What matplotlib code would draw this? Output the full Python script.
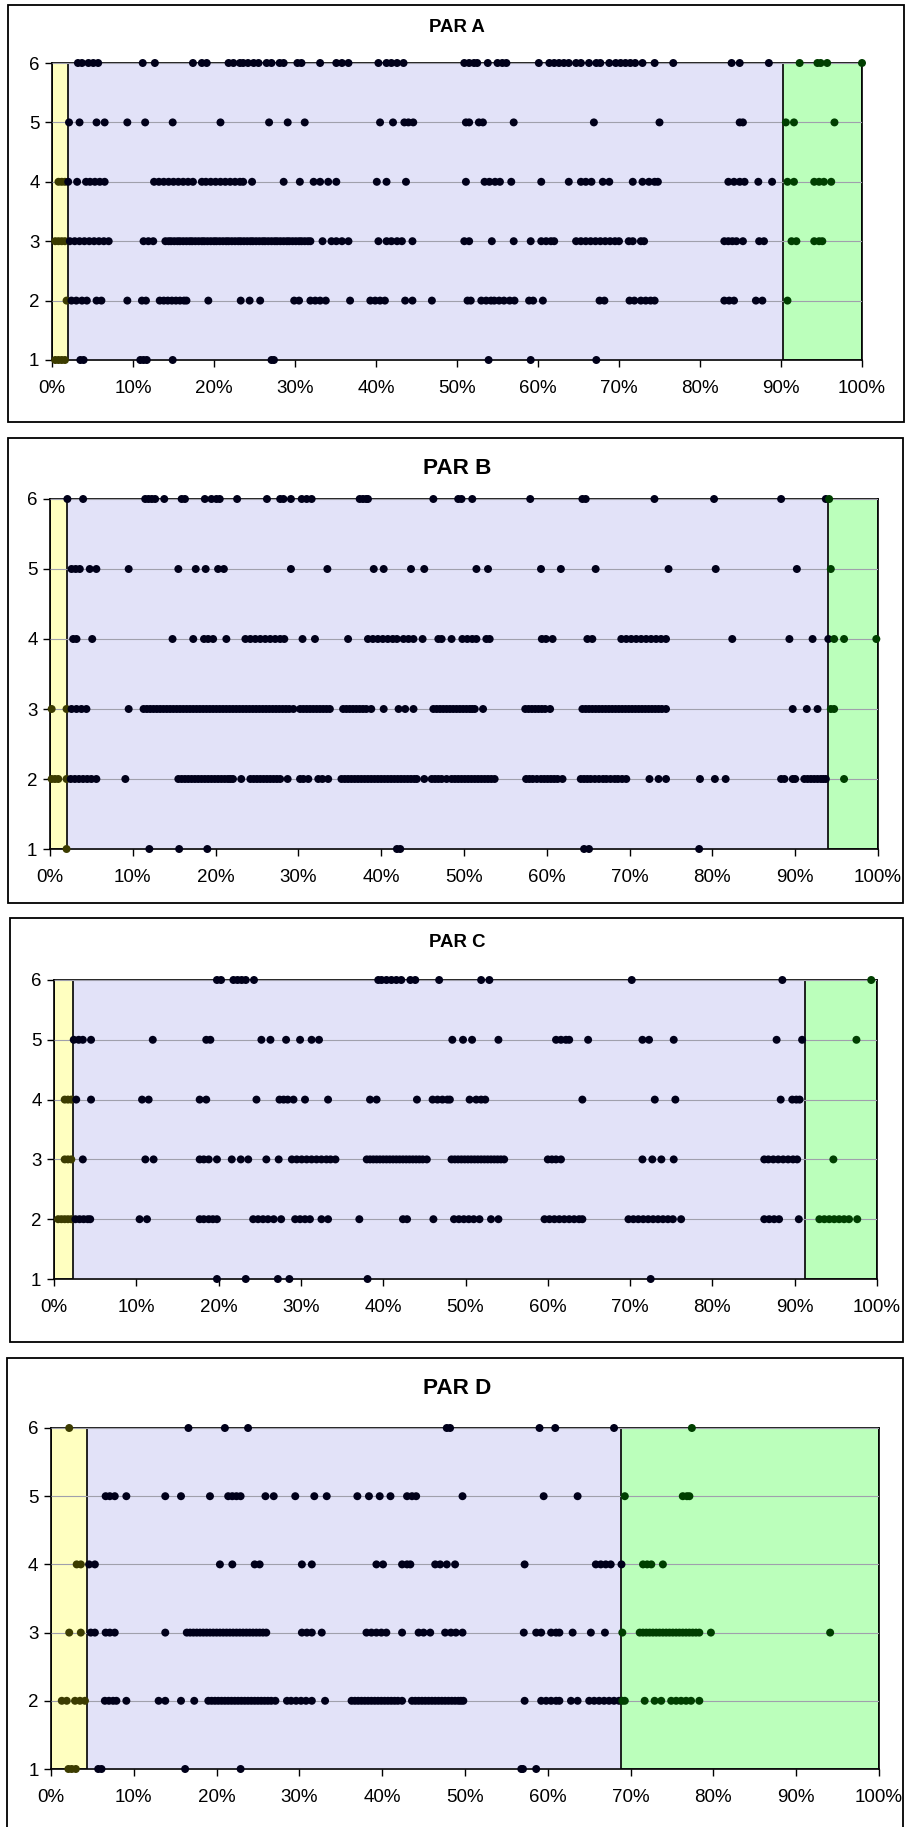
import numpy as np
import matplotlib
matplotlib.use('Agg')
import matplotlib.pyplot as plt
from matplotlib.patches import Rectangle

plt.rcParams['font.family'] = ['Liberation Sans', 'DejaVu Sans']

# ---- data (x in %, one list per level 1..6) ----
titles = ['PAR A', 'PAR B', 'PAR C', 'PAR D']
levels = [1, 2, 3, 4, 5, 6]
x_ticks = [0, 10, 20, 30, 40, 50, 60, 70, 80, 90, 100]
yellow_end = [2.0, 2.1, 2.3, 4.3]
green_start = [90.3, 94.0, 91.2, 68.9]

a1 = [0.4, 0.8, 1.2, 1.6, 3.5, 3.9, 10.9, 11.3, 11.7, 14.9, 27.1, 27.4, 53.9, 59.1, 67.2]
a2 = [1.8, 2.4, 3.0, 3.7, 4.3, 5.5, 6.1, 9.3, 11.1, 11.6, 13.3, 13.8, 14.3, 14.8, 15.3, 15.8,
      16.3, 16.6, 19.3, 23.3, 24.4, 25.7, 29.9, 30.5, 31.9, 32.5, 33.1, 33.8, 36.8, 39.3, 39.9,
      40.5, 41.1, 43.6, 44.5, 46.9, 51.3, 51.7, 53.0, 53.6, 54.2, 54.6, 55.2, 55.8, 56.5, 57.1,
      58.9, 59.4, 60.6, 67.6, 68.2, 71.3, 71.9, 72.7, 73.3, 73.9, 74.4, 83.0, 83.6, 84.2, 86.9,
      87.7, 90.8]
a3 = [0.4, 0.8, 1.2, 1.6, 2.2, 2.8, 3.4, 4.0, 4.6, 5.2, 5.8, 6.4, 7.0, 11.3, 11.9, 12.5,
      14.0, 14.4, 14.7, 15.1, 15.5, 15.8, 16.2, 16.6, 17.0, 17.3, 17.7, 18.1, 18.5, 18.8, 19.2,
      19.6, 20.0, 20.3, 20.7, 21.1, 21.5, 21.8, 22.2, 22.6, 23.0, 23.3, 23.7, 24.1, 24.5, 24.8,
      25.2, 25.6, 26.0, 26.3, 26.7, 27.1, 27.5, 27.8, 28.2, 28.6, 29.0, 29.3, 29.7, 30.1, 30.5,
      30.8, 31.2, 31.6, 31.9, 33.4, 34.5, 35.1, 35.8, 36.6, 40.3, 41.3, 41.9, 42.6, 43.2, 44.5,
      50.9, 51.5, 54.3, 57.0, 59.1, 60.4, 61.0, 61.6, 62.0, 64.7, 65.3, 65.9, 66.5, 67.1, 67.7,
      68.3, 68.9, 69.5, 70.0, 71.2, 71.7, 72.7, 73.1, 83.0, 83.5, 84.0, 84.5, 85.3, 87.3, 87.9,
      91.3, 91.9, 94.1, 94.7, 95.1]
a4 = [0.8, 1.2, 1.6, 2.0, 3.1, 4.2, 4.7, 5.3, 5.9, 6.5, 12.6, 13.2, 13.8, 14.4, 15.0, 15.6,
      16.2, 16.8, 17.4, 18.5, 19.0, 19.6, 20.2, 20.8, 21.4, 22.0, 22.6, 23.2, 23.6, 24.7, 28.6,
      30.6, 32.3, 33.1, 34.1, 35.1, 40.1, 41.3, 43.7, 51.1, 53.4, 54.0, 54.7, 55.3, 56.7, 60.4,
      63.8, 65.3, 65.9, 66.6, 68.0, 68.8, 71.7, 72.9, 73.7, 74.4, 74.8, 83.5, 84.2, 84.9, 85.5,
      87.2, 88.9, 90.8, 91.6, 94.1, 94.7, 95.3, 96.2]
a5 = [2.1, 3.4, 5.5, 6.5, 9.3, 11.5, 14.9, 20.8, 26.8, 29.1, 31.2, 40.5, 42.1, 43.5, 44.0,
      44.6, 51.1, 51.5, 52.7, 53.2, 57.0, 66.9, 75.0, 84.9, 85.3, 90.6, 91.6, 96.6]
a6 = [3.2, 3.7, 4.5, 5.1, 5.7, 11.2, 12.7, 17.4, 18.5, 19.1, 21.8, 22.4, 23.2, 23.6, 24.2,
      24.9, 25.5, 26.5, 27.1, 28.1, 28.6, 30.3, 30.8, 33.1, 35.1, 35.8, 36.6, 40.3, 41.3, 41.9,
      42.6, 43.4, 50.9, 51.5, 52.1, 52.5, 53.8, 55.0, 55.6, 56.1, 60.1, 61.4, 62.0, 62.6, 63.2,
      63.8, 64.7, 65.3, 66.3, 67.2, 67.7, 68.8, 69.6, 70.2, 70.8, 71.4, 72.0, 72.9, 74.4, 76.7,
      83.9, 84.9, 88.5, 92.3, 94.5, 94.9, 95.7, 100.0]

b1 = [2.0, 12.0, 15.6, 19.0, 41.9, 42.3, 64.5, 65.1, 78.4]
b2 = [0.2, 0.6, 1.0, 2.0, 2.5, 3.0, 3.5, 4.0, 4.5, 5.0, 5.6, 9.1, 15.5, 15.9, 16.3, 16.7,
      17.1, 17.5, 17.9, 18.3, 18.7, 19.1, 19.5, 19.9, 20.3, 20.7, 21.1, 21.5, 21.8, 22.1, 23.1,
      24.2, 24.6, 25.0, 25.4, 25.8, 26.2, 26.6, 27.0, 27.4, 27.8, 28.7, 30.2, 30.6, 31.2, 32.4,
      32.9, 33.6, 35.2, 35.6, 36.0, 36.4, 36.8, 37.2, 37.6, 38.0, 38.4, 38.8, 39.2, 39.6, 40.0,
      40.4, 40.8, 41.2, 41.6, 42.0, 42.4, 42.8, 43.2, 43.6, 44.0, 44.3, 45.2, 46.1, 46.5, 46.9,
      47.3, 47.9, 48.5, 48.9, 49.3, 49.7, 50.1, 50.5, 50.9, 51.3, 51.7, 52.1, 52.5, 52.9, 53.3,
      53.7, 57.5, 57.9, 58.3, 58.8, 59.3, 59.7, 60.1, 60.5, 60.9, 61.3, 61.9, 64.1, 64.5, 64.9,
      65.3, 65.8, 66.3, 66.8, 67.2, 67.7, 68.2, 68.6, 69.1, 69.6, 72.4, 73.5, 74.4, 78.5, 80.3,
      81.6, 88.3, 88.7, 89.7, 90.0, 91.1, 91.5, 91.9, 92.3, 92.7, 93.1, 93.4, 93.7, 95.9]
b3 = [0.2, 2.0, 2.6, 3.2, 3.8, 4.4, 9.5, 11.3, 11.7, 12.1, 12.5, 12.9, 13.3, 13.7, 14.1, 14.5,
      14.9, 15.3, 15.7, 16.1, 16.5, 16.9, 17.3, 17.7, 18.1, 18.5, 18.9, 19.3, 19.7, 20.1, 20.5,
      20.9, 21.3, 21.7, 22.1, 22.5, 22.9, 23.3, 23.7, 24.1, 24.5, 24.9, 25.3, 25.7, 26.1, 26.5,
      26.9, 27.3, 27.7, 28.1, 28.5, 28.9, 29.4, 30.2, 30.6, 31.0, 31.4, 31.8, 32.2, 32.6, 33.0,
      33.4, 33.8, 35.4, 35.8, 36.2, 36.6, 37.0, 37.4, 37.8, 38.2, 38.8, 40.3, 42.1, 42.9, 43.9,
      46.3, 46.7, 47.1, 47.5, 47.9, 48.3, 48.7, 49.1, 49.5, 49.9, 50.3, 50.7, 51.0, 51.3, 52.3,
      57.4, 57.8, 58.2, 58.6, 59.0, 59.4, 59.8, 60.4, 64.3, 64.7, 65.1, 65.5, 65.9, 66.3, 66.7,
      67.1, 67.5, 67.9, 68.3, 68.7, 69.1, 69.5, 69.9, 70.3, 70.7, 71.1, 71.5, 71.9, 72.3, 72.7,
      73.1, 73.5, 73.9, 74.4, 89.7, 91.4, 92.7, 94.3, 94.7]
b4 = [2.8, 3.2, 5.1, 14.8, 17.3, 18.6, 19.1, 19.7, 21.3, 23.6, 24.2, 24.8, 25.4, 26.0, 26.6,
      27.2, 27.8, 28.3, 30.5, 32.0, 36.0, 38.4, 39.0, 39.6, 40.2, 40.8, 41.4, 41.9, 42.7, 43.3,
      43.9, 45.0, 46.9, 47.3, 48.5, 49.8, 50.4, 51.0, 51.5, 52.7, 53.1, 59.4, 59.9, 60.7, 64.9,
      65.5, 69.0, 69.6, 70.2, 70.8, 71.4, 72.0, 72.6, 73.2, 73.8, 74.4, 82.4, 89.3, 92.1, 94.0,
      94.7, 95.9, 99.8]
b5 = [2.6, 3.1, 3.6, 4.8, 5.6, 9.5, 15.5, 17.6, 18.8, 20.3, 21.0, 29.1, 33.5, 39.1, 40.3,
      43.6, 45.2, 51.5, 52.9, 59.3, 61.7, 65.9, 74.7, 80.4, 90.2, 94.3]
b6 = [2.1, 4.0, 11.5, 11.9, 12.3, 12.7, 13.8, 15.9, 16.3, 18.7, 19.5, 20.1, 20.5, 22.6, 26.2,
      27.8, 28.2, 29.1, 30.4, 31.0, 31.6, 37.4, 37.8, 38.2, 38.4, 46.3, 49.3, 49.7, 51.0, 58.0,
      64.3, 64.7, 73.0, 80.2, 88.3, 93.7, 94.1]

c1 = [19.8, 23.3, 27.2, 28.6, 38.1, 72.5]
c2 = [0.5, 0.9, 1.3, 1.7, 2.1, 2.6, 3.1, 3.6, 4.1, 4.4, 10.4, 11.3, 17.7, 18.2, 18.8, 19.3,
      19.8, 24.2, 24.8, 25.4, 26.0, 26.7, 27.6, 29.3, 29.9, 30.5, 31.1, 32.5, 33.3, 37.1, 42.4,
      42.9, 46.1, 48.6, 49.2, 49.8, 50.4, 51.0, 51.7, 53.1, 54.0, 59.6, 60.2, 60.8, 61.4, 62.0,
      62.6, 63.2, 63.8, 64.2, 69.8, 70.4, 71.0, 71.6, 72.2, 72.8, 73.4, 74.0, 74.6, 75.2, 76.2,
      86.3, 86.9, 87.5, 88.1, 90.5, 93.0, 93.6, 94.2, 94.8, 95.4, 96.0, 96.6, 97.6]
c3 = [1.3, 1.7, 2.1, 3.5, 11.1, 12.1, 17.7, 18.2, 18.8, 19.8, 21.6, 22.7, 23.6, 25.8, 27.3,
      28.9, 29.5, 30.1, 30.7, 31.3, 31.9, 32.5, 33.1, 33.6, 34.2, 38.0, 38.4, 38.8, 39.2, 39.6,
      40.0, 40.4, 40.8, 41.2, 41.6, 42.0, 42.4, 42.8, 43.2, 43.6, 44.0, 44.4, 44.8, 45.3, 48.3,
      48.7, 49.1, 49.5, 49.9, 50.3, 50.7, 51.1, 51.5, 51.9, 52.3, 52.7, 53.1, 53.5, 53.9, 54.3,
      54.7, 60.0, 60.5, 61.0, 61.6, 71.5, 72.7, 73.8, 75.3, 86.3, 86.8, 87.4, 88.0, 88.6, 89.2,
      89.8, 90.3, 94.7]
c4 = [1.3, 1.7, 2.1, 2.7, 4.5, 10.7, 11.5, 17.7, 18.5, 24.6, 27.4, 27.9, 28.4, 29.1, 30.5,
      33.3, 38.4, 39.2, 44.1, 46.0, 46.6, 47.2, 47.8, 48.1, 50.5, 51.3, 51.9, 52.4, 64.2, 73.0,
      75.5, 88.3, 89.7, 90.2, 90.6]
c5 = [2.4, 3.0, 3.5, 4.5, 12.0, 18.5, 19.0, 25.2, 26.3, 28.2, 29.9, 31.3, 32.2, 48.4, 49.7,
      50.8, 54.0, 61.0, 61.6, 62.2, 62.6, 64.9, 71.5, 72.3, 75.3, 87.8, 90.9, 97.5]
c6 = [19.8, 20.3, 21.8, 22.3, 22.8, 23.3, 24.3, 39.4, 39.8, 40.4, 41.0, 41.6, 42.2, 43.3, 43.9,
      46.8, 51.9, 52.9, 70.2, 88.5, 99.3]

d1 = [2.1, 2.5, 3.0, 5.7, 6.1, 16.2, 22.9, 56.8, 57.0, 58.6]
d2 = [1.3, 1.9, 2.9, 3.5, 4.1, 6.5, 7.0, 7.5, 7.9, 9.1, 13.0, 13.8, 15.7, 17.3, 19.0, 19.4,
      19.8, 20.2, 20.6, 21.0, 21.4, 21.8, 22.2, 22.6, 23.0, 23.4, 23.8, 24.2, 24.6, 25.0, 25.4,
      25.8, 26.2, 26.6, 27.1, 28.5, 29.0, 29.6, 30.2, 30.8, 31.5, 33.1, 36.3, 36.7, 37.1, 37.5,
      37.9, 38.3, 38.7, 39.1, 39.5, 39.9, 40.3, 40.7, 41.1, 41.5, 41.9, 42.4, 43.6, 44.0, 44.4,
      44.8, 45.2, 45.6, 46.0, 46.4, 46.8, 47.2, 47.6, 48.0, 48.4, 48.8, 49.2, 49.5, 49.8, 57.2,
      59.2, 59.8, 60.4, 61.0, 61.4, 62.8, 63.6, 65.0, 65.6, 66.2, 66.8, 67.4, 68.0, 68.6, 69.0,
      69.3, 71.7, 72.9, 73.7, 74.9, 75.5, 76.1, 76.7, 77.3, 78.3]
d3 = [2.2, 3.6, 4.8, 5.3, 6.6, 7.1, 7.7, 13.8, 16.4, 16.8, 17.2, 17.6, 18.0, 18.4, 18.8, 19.2,
      19.6, 20.0, 20.4, 20.8, 21.2, 21.6, 22.0, 22.4, 22.8, 23.2, 23.6, 24.0, 24.4, 24.8, 25.2,
      25.6, 26.0, 30.3, 30.9, 31.5, 32.7, 38.1, 38.7, 39.3, 39.9, 40.5, 42.4, 44.4, 45.0, 45.8,
      47.6, 48.3, 48.9, 49.7, 57.1, 58.6, 59.2, 60.4, 61.0, 61.4, 63.0, 65.2, 66.9, 69.0, 71.1,
      71.5, 71.9, 72.3, 72.7, 73.1, 73.5, 73.9, 74.3, 74.7, 75.1, 75.5, 75.9, 76.3, 76.7, 77.1,
      77.5, 77.9, 78.3, 79.7, 94.1]
d4 = [3.1, 3.6, 4.6, 5.3, 20.4, 21.9, 24.6, 25.2, 30.3, 31.5, 39.3, 40.1, 42.4, 43.0, 43.4,
      46.4, 47.0, 47.8, 48.8, 57.2, 65.8, 66.4, 67.0, 67.6, 68.9, 71.5, 72.0, 72.5, 73.9]
d5 = [6.6, 7.1, 7.7, 9.1, 13.8, 15.7, 19.2, 21.4, 21.9, 22.4, 22.9, 25.9, 26.9, 29.5, 31.8,
      33.3, 37.0, 38.4, 39.7, 41.0, 43.0, 43.6, 44.1, 49.7, 59.5, 63.6, 69.3, 76.3, 76.8, 77.1]
d6 = [2.2, 16.6, 21.0, 23.8, 47.8, 48.2, 59.0, 60.9, 68.0, 77.4]

par_data = [[a1, a2, a3, a4, a5, a6],
            [b1, b2, b3, b4, b5, b6],
            [c1, c2, c3, c4, c5, c6],
            [d1, d2, d3, d4, d5, d6]]

# ---- layout (pixels of a 906 x 1827 canvas) ----
W, H = 906, 1827
plot_px = [(52, 63, 862, 360), (50, 499, 878, 849), (54, 980, 877, 1279), (51, 1428, 879, 1769)]
box_px = [(8, 5, 904, 422), (8, 438, 903, 903), (10, 918, 903, 1342), (7, 1358, 903, 1840)]
title_y = [27, 468, 942, 1389]
title_size = [13.4, 16.2, 13.4, 16.2]

LAVENDER = '#e2e2f8'
YELLOW = '#ffffc0'
GREEN = '#bbffbb'
DOT = '#00001a'
DOT_Y = '#3c3c00'
DOT_G = '#003f00'

fig = plt.figure(figsize=(W / 100, H / 100), dpi=100)

for i in range(4):
    x0, y0, x1, y1 = box_px[i]
    fig.patches.append(Rectangle((x0 / W, 1 - y1 / H), (x1 - x0) / W, (y1 - y0) / H,
                                 transform=fig.transFigure, fill=False, ec='black', lw=1.3))

    x0, y0, x1, y1 = plot_px[i]
    ax = fig.add_axes([x0 / W, 1 - y1 / H, (x1 - x0) / W, (y1 - y0) / H])
    ax.set_facecolor(LAVENDER)
    ax.axvspan(0, yellow_end[i], facecolor=YELLOW, edgecolor='black', lw=1.2, zorder=1)
    ax.axvspan(green_start[i], 100, facecolor=GREEN, edgecolor='black', lw=1.2, zorder=1)

    for lvl, xs in zip(levels, par_data[i]):
        xs = np.array(xs)
        cols = np.where(xs < yellow_end[i], DOT_Y, np.where(xs > green_start[i], DOT_G, DOT))
        ax.scatter(xs, np.full(len(xs), lvl), s=33, c=cols, linewidths=0, zorder=4, clip_on=False)

    ax.set_xlim(0, 100)
    ax.set_ylim(1, 6)
    ax.set_xticks(x_ticks)
    ax.set_xticklabels([f'{t}%' for t in x_ticks])
    ax.set_yticks(levels)
    ax.grid(axis='y', color='#a0a0ac', lw=0.8)
    ax.set_axisbelow(False)
    ax.tick_params(axis='both', direction='out', length=5, width=1, labelsize=13.5, colors='black')
    ax.tick_params(axis='x', pad=9.5)
    ax.tick_params(axis='y', pad=4)
    for s in ax.spines.values():
        s.set_linewidth(1.2)
        s.set_color('black')

    fig.text(457 / W, 1 - title_y[i] / H, titles[i], ha='center', va='center',
             fontsize=title_size[i], fontweight='bold')

fig.savefig('out.png', dpi=100)
